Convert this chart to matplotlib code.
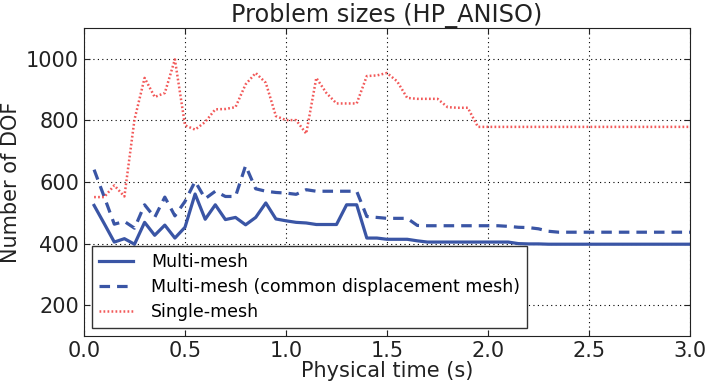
import matplotlib
matplotlib.use("Agg")
import matplotlib.pyplot as plt
import numpy as np

time = [0.05, 0.10, 0.15, 0.20, 0.25, 0.30, 0.35, 0.40, 0.45, 0.50,
        0.55, 0.60, 0.65, 0.70, 0.75, 0.80, 0.85, 0.90, 0.95, 1.00,
        1.05, 1.10, 1.15, 1.20, 1.25, 1.30, 1.35, 1.40, 1.45, 1.50,
        1.55, 1.60, 1.65, 1.70, 1.75, 1.80, 1.85, 1.90, 1.95, 2.00,
        2.05, 2.10, 2.15, 2.20, 2.25, 2.30, 2.35, 2.40, 2.45, 2.50,
        2.55, 2.60, 2.65, 2.70, 2.75, 2.80, 2.85, 2.90, 2.95, 3.00]

multi_mesh = [524, 465, 405, 416, 398, 469, 427, 460, 418, 453,
              561, 479, 526, 478, 485, 461, 485, 532, 480, 474,
              469, 467, 462, 462, 462, 526, 526, 418, 418, 414,
              414, 414, 409, 405, 405, 405, 405, 405, 405, 405,
              405, 405, 400, 399, 399, 398, 398, 398, 398, 398,
              398, 398, 398, 398, 398, 398, 398, 398, 398, 398]

multi_mesh_common = [640, 552, 463, 472, 450, 526, 485, 551, 490, 537,
                     602, 546, 570, 553, 553, 653, 578, 570, 566, 564,
                     560, 575, 570, 570, 570, 570, 570, 488, 485, 482,
                     482, 482, 459, 458, 458, 458, 458, 458, 458, 458,
                     458, 456, 453, 452, 448, 440, 437, 437, 437, 437,
                     437, 437, 437, 437, 437, 437, 437, 437, 437, 437]

single_mesh = [551, 551, 589, 553, 803, 938, 876, 889, 998, 784,
               770, 795, 836, 837, 843, 917, 954, 922, 814, 801,
               801, 757, 938, 889, 855, 855, 855, 944, 946, 954,
               927, 873, 870, 870, 870, 843, 841, 841, 779, 779,
               779, 779, 779, 779, 779, 779, 779, 779, 779, 779,
               779, 779, 779, 779, 779, 779, 779, 779, 779, 779]

labels = ["Multi-mesh", "Multi-mesh (common displacement mesh)", "Single-mesh"]

blue = "#3a55a5"
red = "#f03c3c"

fig = plt.figure(figsize=(7.09, 3.87), dpi=100)
ax = fig.add_axes([84/709, 1 - 336/387, (690-84)/709, (336-28)/387])

ax.plot(time, multi_mesh, color=blue, lw=2.3, ls="-", label=labels[0])
ax.plot(time, multi_mesh_common, color=blue, lw=2.3, ls=(0, (3.3, 2.2)), label=labels[1])
ax.plot(time, single_mesh, color=red, lw=1.8, ls=(0, (0.7, 0.9)), alpha=0.85, label=labels[2])

ax.set_xlim(0, 3.0)
ax.set_ylim(100, 1100)
ax.set_xticks(np.arange(0, 3.01, 0.5))
ax.set_yticks([200, 400, 600, 800, 1000])
ax.grid(True, color="black", ls=(0, (1, 3)), lw=0.8)
ax.tick_params(direction="in", top=True, right=True, labelsize=15, length=4, colors="#222222")
for s in ax.spines.values():
    s.set_color("#222222")

ax.set_title("Problem sizes (HP_ANISO)", fontsize=17.3, color="#222222", pad=4)
ax.set_xlabel("Physical time (s)", fontsize=15, color="#222222", labelpad=0)
ax.set_ylabel("Number of DOF", fontsize=15, color="#222222")

leg = ax.legend(loc="lower left", fontsize=12.5, fancybox=False, framealpha=1,
                edgecolor="#333333", borderaxespad=0.45, handlelength=2.0,
                handletextpad=1.0, labelspacing=0.42, borderpad=0.4)
leg.get_frame().set_linewidth(1.0)

fig.savefig("out.png", dpi=100)
